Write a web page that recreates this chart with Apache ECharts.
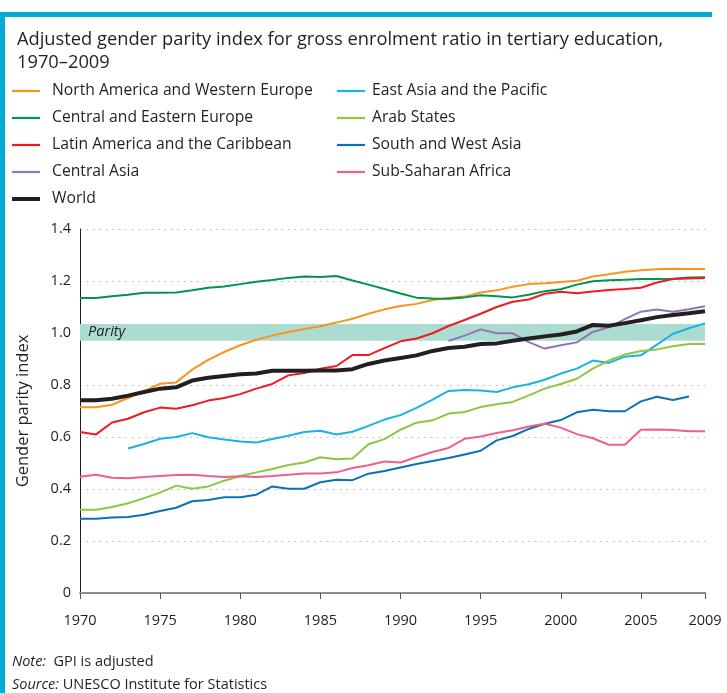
<!DOCTYPE html>
<html>
<head>
<meta charset="utf-8">
<script src="https://cdn.jsdelivr.net/npm/echarts@6/dist/echarts.min.js"></script>
<style>
  html, body { margin: 0; padding: 0; background: #ffffff; }
  #chart { width: 727px; height: 693px; }
</style>
</head>
<body>
<div id="chart"></div>
<script>
// Years on the horizontal axis
const years = [1970,1971,1972,1973,1974,1975,1976,1977,1978,1979,
               1980,1981,1982,1983,1984,1985,1986,1987,1988,1989,
               1990,1991,1992,1993,1994,1995,1996,1997,1998,1999,
               2000,2001,2002,2003,2004,2005,2006,2007,2008,2009];

// Adjusted GPI by region (null = no data)
const northAmericaWesternEurope = [0.714,0.714,0.724,0.750,0.776,0.805,0.810,0.859,0.897,0.927,
  0.953,0.974,0.990,1.004,1.015,1.026,1.040,1.055,1.074,1.091,
  1.104,1.112,1.127,1.135,1.140,1.156,1.164,1.178,1.188,1.191,
  1.196,1.201,1.217,1.226,1.236,1.241,1.245,1.247,1.246,1.246];
const centralEasternEurope = [1.135,1.135,1.141,1.147,1.155,1.155,1.156,1.164,1.174,1.179,
  1.188,1.197,1.204,1.212,1.217,1.215,1.219,1.202,1.186,1.169,
  1.152,1.136,1.133,1.132,1.137,1.145,1.141,1.137,1.147,1.161,
  1.168,1.186,1.199,1.203,1.205,1.208,1.208,1.209,1.213,1.214];
const latinAmericaCaribbean = [0.619,0.610,0.656,0.670,0.695,0.713,0.709,0.722,0.740,0.750,
  0.765,0.786,0.804,0.837,0.846,0.863,0.873,0.915,0.915,0.942,
  0.968,0.979,0.999,1.027,1.050,1.074,1.100,1.120,1.129,1.151,
  1.159,1.153,1.160,1.165,1.169,1.174,1.194,1.208,1.210,1.212];
const centralAsia = [null,null,null,null,null,null,null,null,null,null,
  null,null,null,null,null,null,null,null,null,null,
  null,null,null,0.969,0.990,1.014,0.999,0.999,0.965,0.940,
  0.953,0.964,1.004,1.022,1.053,1.082,1.090,1.082,1.091,1.103];
const eastAsiaPacific = [null,null,null,0.556,0.573,0.593,0.600,0.615,0.599,0.590,
  0.583,0.579,0.592,0.605,0.619,0.624,0.610,0.620,0.643,0.667,
  0.684,0.712,0.744,0.777,0.781,0.779,0.773,0.791,0.803,0.820,
  0.844,0.863,0.894,0.885,0.909,0.914,0.955,0.997,1.018,1.037];
const arabStates = [0.320,0.320,0.331,0.345,0.365,0.386,0.413,0.401,0.410,0.432,
  0.450,0.464,0.477,0.492,0.502,0.522,0.514,0.517,0.572,0.592,
  0.628,0.655,0.664,0.690,0.696,0.715,0.726,0.735,0.760,0.786,
  0.804,0.824,0.863,0.894,0.917,0.931,0.937,0.949,0.958,0.958];
const southWestAsia = [0.286,0.286,0.290,0.292,0.301,0.315,0.328,0.353,0.358,0.368,
  0.368,0.378,0.410,0.401,0.401,0.426,0.436,0.434,0.459,0.469,
  0.483,0.496,0.508,0.519,0.533,0.547,0.587,0.604,0.631,0.651,
  0.665,0.695,0.705,0.699,0.699,0.737,0.755,0.742,0.756,null];
const subSaharanAfrica = [0.447,0.455,0.443,0.441,0.446,0.450,0.454,0.455,0.450,0.446,
  0.449,0.446,0.450,0.455,0.460,0.460,0.464,0.481,0.491,0.506,
  0.502,0.523,0.542,0.558,0.593,0.602,0.615,0.626,0.640,0.651,
  0.636,0.611,0.595,0.570,0.570,0.628,0.629,0.627,0.622,0.622];
const world = [0.741,0.741,0.747,0.759,0.773,0.786,0.791,0.817,0.828,0.835,
  0.841,0.844,0.855,0.855,0.855,0.856,0.856,0.861,0.881,0.894,
  0.904,0.914,0.931,0.942,0.947,0.958,0.960,0.970,0.979,0.987,
  0.994,1.006,1.031,1.028,1.038,1.049,1.061,1.069,1.076,1.084];

// Axis ticks and the parity band
const xTicks = [1970,1975,1980,1985,1990,1995,2000,2005,2009];
const yTicks = [0,0.2,0.4,0.6,0.8,1.0,1.2,1.4];
const parityBand = [0.97, 1.035];

const seriesDefs = [
  { name: 'North America and Western Europe', values: northAmericaWesternEurope, color: '#f7941d', width: 2 },
  { name: 'Central and Eastern Europe',       values: centralEasternEurope,      color: '#00954c', width: 2 },
  { name: 'Latin America and the Caribbean',  values: latinAmericaCaribbean,     color: '#ed1c24', width: 2 },
  { name: 'Central Asia',                     values: centralAsia,               color: '#9274b8', width: 2 },
  { name: 'East Asia and the Pacific',        values: eastAsiaPacific,           color: '#19b2e5', width: 2 },
  { name: 'Arab States',                      values: arabStates,                color: '#8dc63f', width: 2 },
  { name: 'South and West Asia',              values: southWestAsia,             color: '#0b72b5', width: 2 },
  { name: 'Sub-Saharan Africa',               values: subSaharanAfrica,          color: '#ef5f8e', width: 2 },
  { name: 'World',                            values: world,                     color: '#231f20', width: 4 }
];

const FONT = '"Open Sans"';
const INK = '#231f20';
const FRAME = '#00acd5';

const lineSeries = seriesDefs.map((s, i) => ({
  name: s.name,
  type: 'line',
  z: 3 + i,
  symbol: 'none',
  smooth: false,
  connectNulls: false,
  lineStyle: { color: s.color, width: s.width },
  itemStyle: { color: s.color },
  data: years.map((y, k) => [y, s.values[k]])
}));

const bandSeries = {
  name: 'parity',
  type: 'line',
  z: -1,
  data: [],
  silent: true,
  markArea: {
    silent: true,
    itemStyle: { color: '#abdcd2' },
    label: {
      show: true, position: 'insideLeft', distance: 8,
      formatter: 'Parity', fontFamily: FONT, fontStyle: 'italic',
      fontSize: 14.5, color: INK
    },
    data: [[{ yAxis: parityBand[0] }, { yAxis: parityBand[1] }]]
  }
};

// Legend keys are short bars; the World key is drawn thicker
const thinKey = 'path://M0,0H28V2.2H0Z';
const thickKey = 'path://M0,0H28V4H0Z';
const legendItem = s => ({ name: s.name, icon: s.width > 3 ? thickKey : thinKey });
const legendText = pad => ({ fontFamily: FONT, fontSize: 15.7, color: INK, lineHeight: 20, padding: [0, 0, 0, pad] });

const chart = echarts.init(document.getElementById('chart'), null, { renderer: 'canvas' });
chart.setOption({
  animation: false,
  backgroundColor: '#ffffff',
  textStyle: { fontFamily: FONT },
  title: {
    text: 'Adjusted gender parity index for gross enrolment ratio in tertiary education,\n1970–2009',
    left: 12, top: 23,
    textStyle: { fontFamily: FONT, fontSize: 18.3, fontWeight: 'normal', color: INK, lineHeight: 23 }
  },
  legend: [
    {
      left: 12, top: 81, padding: 0, orient: 'vertical', itemGap: 7,
      itemWidth: 28, itemHeight: 14, selectedMode: false, symbolKeepAspect: true,
      textStyle: legendText(7),
      data: [0, 1, 2, 3, 8].map(i => legendItem(seriesDefs[i]))
    },
    {
      left: 337, top: 81, padding: 0, orient: 'vertical', itemGap: 7,
      itemWidth: 28, itemHeight: 14, selectedMode: false, symbolKeepAspect: true,
      textStyle: legendText(2),
      data: [4, 5, 6, 7].map(i => legendItem(seriesDefs[i]))
    }
  ],
  grid: { left: 80, right: 22, top: 229, bottom: 100, containLabel: false },
  xAxis: {
    type: 'value', min: 1970, max: 2009,
    axisLine: { show: true, lineStyle: { color: '#8c8c8c', width: 2 } },
    axisTick: { show: true, length: 6, customValues: xTicks, lineStyle: { color: '#555', width: 1 } },
    axisLabel: { customValues: xTicks, margin: 20, fontFamily: FONT, fontSize: 14.5, color: INK,
                 formatter: v => String(v) },
    splitLine: { show: false }
  },
  yAxis: {
    type: 'value', min: 0, max: 1.4, interval: 0.2,
    name: 'Gender parity index', nameLocation: 'middle', nameGap: 48,
    nameTextStyle: { fontFamily: FONT, fontSize: 16.5, color: INK },
    axisLine: { show: true, lineStyle: { color: INK, width: 1 } },
    axisTick: { show: false },
    axisLabel: { margin: 9, fontFamily: FONT, fontSize: 14.5, color: INK,
                 formatter: v => (v === 0 ? '0' : v.toFixed(1)) },
    splitLine: { show: true, lineStyle: { color: '#b5b5b5', width: 1, type: [1.5, 5] } }
  },
  graphic: [
    { type: 'rect', left: 0, top: 12, shape: { width: 712, height: 5 }, style: { fill: FRAME } },
    { type: 'rect', left: 0, top: 12, shape: { width: 5, height: 681 }, style: { fill: FRAME } },
    {
      type: 'text', left: 12, top: 654,
      style: {
        text: '{i|Note:}  GPI is adjusted',
        font: '14.5px ' + FONT, fill: INK,
        rich: { i: { fontStyle: 'italic', fontFamily: FONT, fontSize: 14.5, fill: INK } }
      }
    },
    {
      type: 'text', left: 12, top: 677,
      style: {
        text: '{i|Source:} UNESCO Institute for Statistics',
        font: '14.5px ' + FONT, fill: INK,
        rich: { i: { fontStyle: 'italic', fontFamily: FONT, fontSize: 14.5, fill: INK } }
      }
    }
  ],
  series: [bandSeries].concat(lineSeries)
});
</script>
</body>
</html>
